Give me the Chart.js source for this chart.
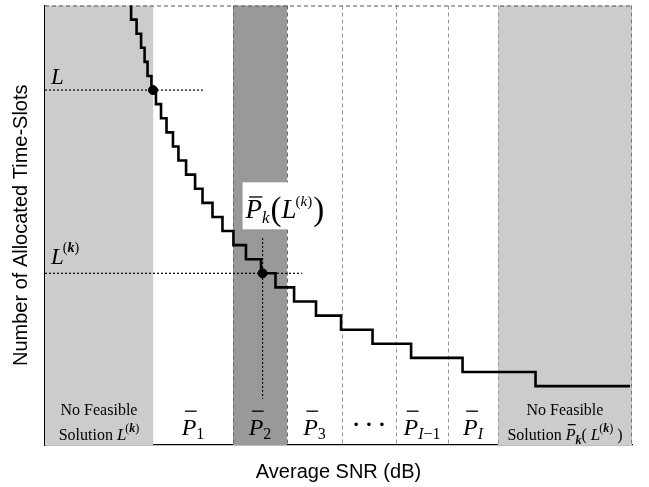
<!DOCTYPE html>
<html>
<head>
<meta charset="utf-8">
<script src="https://cdn.jsdelivr.net/npm/chart.js@4/dist/chart.umd.min.js"></script>
<style>
  body { margin: 0; background: #fff; }
</style>
</head>
<body>
<canvas id="snr-chart" width="649" height="487"></canvas>
<script>
// staircase: SNR where one slot is dropped, and slots needed after it
const stepSnr = [4.29, 4.40, 4.68, 4.91, 5.09, 5.24, 5.44, 5.67, 5.93, 6.21, 6.54, 6.82, 7.21, 7.67,
                 8.05, 8.56, 9.07, 9.63, 10.27, 11.04, 11.78, 12.73, 13.85, 15.13, 16.74, 18.71,
                 21.34, 25.07, 29.90];
const stepSlots = [32, 30, 29, 28, 27, 26, 25, 24, 23, 22, 21, 20, 19, 18,
                   17, 16, 15, 14, 13, 12, 11, 10, 9, 8, 7, 6,
                   5, 4, 4];

// region boundaries on the SNR axis (P1 .. PI)
const bounds = [0, 5.52, 9.61, 12.37, 15.18, 17.94, 20.60, 23.15, 30];

// the two marked operating points
const markSnr = [5.52, 11.12];
const markSlots = [25, 12];
const guideEnd = [8.07, 13.13];       // horizontal dotted lines end here
const guideSlots = [14.5, 3.1];       // vertical dotted line at markSnr[1]

const serif = '"Liberation Serif", "Times New Roman", serif';
const sans = '"Liberation Sans", Arial, sans-serif';

const stairData = stepSnr.map((x, i) => ({ x: x, y: stepSlots[i] }));

function rich(ctx, segs, x, y, center) {
    let w = 0;
    segs.forEach(s => {
        ctx.font = s.f;
        s.w = ctx.measureText(s.t).width;
        w += s.w + (s.gap || 0);
    });
    let cx = center ? x - w / 2 : x;
    segs.forEach(s => {
        ctx.font = s.f;
        ctx.fillText(s.t, cx, y + (s.dy || 0));
        if (s.bar) {
            ctx.fillRect(cx + s.w * 0.22, y - s.bar, s.w * 0.8, 1.3);
        }
        cx += s.w + (s.gap || 0);
    });
}

function pbar(sub, size) {
    let segs = [{ t: 'P', f: `italic ${size}px ${serif}`, bar: size * 1.02 }];
    return segs.concat(sub);
}

const regions = {
    id: 'regions',
    beforeDatasetsDraw(chart) {
        const { ctx, chartArea: a, scales: { x, y } } = chart;
        const px = v => x.getPixelForValue(v);
        ctx.save();
        // shaded areas
        ctx.fillStyle = '#cccccc';
        ctx.fillRect(a.left, a.top, px(bounds[1]) - a.left, a.bottom - a.top);
        ctx.fillRect(px(bounds[7]), a.top, a.right - px(bounds[7]), a.bottom - a.top);
        ctx.fillStyle = '#999999';
        ctx.fillRect(px(bounds[2]), a.top, px(bounds[3]) - px(bounds[2]), a.bottom - a.top);

        // dashed boundaries
        ctx.lineWidth = 1;
        ctx.setLineDash([4, 3]);
        bounds.slice(1, 8).forEach((b, i) => {
            ctx.strokeStyle = (i == 1 || i == 2) ? '#666' : '#999';
            if (i == 0) ctx.strokeStyle = '#eee';
            const xx = Math.round(px(b)) + 0.5;
            ctx.beginPath();
            ctx.moveTo(xx, a.top);
            ctx.lineTo(xx, a.bottom);
            ctx.stroke();
        });
        // dashed top and right frame
        ctx.strokeStyle = '#555';
        ctx.beginPath();
        ctx.moveTo(a.left, a.top + 0.5);
        ctx.lineTo(a.right, a.top + 0.5);
        ctx.stroke();
        ctx.strokeStyle = '#777';
        ctx.beginPath();
        ctx.moveTo(a.right - 0.5, a.top);
        ctx.lineTo(a.right - 0.5, a.bottom);
        ctx.stroke();
        ctx.restore();
    },
    afterDraw(chart) {
        const { ctx, chartArea: a, scales: { x, y } } = chart;
        const px = v => x.getPixelForValue(v);
        const mid = i => px((bounds[i] + bounds[i + 1]) / 2);
        ctx.save();
        ctx.fillStyle = '#000';
        ctx.textBaseline = 'alphabetic';

        // L and L^(k) on the left
        rich(ctx, [{ t: 'L', f: `italic 23px ${serif}` }], a.left + 6, y.getPixelForValue(markSlots[0]) - 6, false);
        rich(ctx, [
            { t: 'L', f: `italic 23px ${serif}`, gap: -1 },
            { t: '(', f: `14px ${serif}`, dy: -12 },
            { t: 'k', f: `bold italic 14px ${serif}`, dy: -12 },
            { t: ')', f: `14px ${serif}`, dy: -12 }
        ], a.left + 6, y.getPixelForValue(markSlots[1]) - 9, false);

        // label box for P_k(L^(k))
        const bx = px(markSnr[1]) - 20;
        const by = y.getPixelForValue(markSlots[1]) - 91;
        ctx.fillStyle = '#fff';
        ctx.fillRect(bx, by, 93, 47);
        ctx.fillStyle = '#000';
        rich(ctx, [
            { t: 'P', f: `italic 27px ${serif}`, bar: 22 },
            { t: 'k', f: `italic 17px ${serif}`, dy: 5, gap: 1 },
            { t: '(', f: `33px ${serif}`, dy: 2 },
            { t: 'L', f: `italic 27px ${serif}`, gap: -1 },
            { t: '(', f: `15px ${serif}`, dy: -12 },
            { t: 'k', f: `italic 15px ${serif}`, dy: -12 },
            { t: ')', f: `15px ${serif}`, dy: -12, gap: 1 },
            { t: ')', f: `33px ${serif}`, dy: 2 }
        ], bx + 3, by + 36, false);

        // labels under the regions
        const base = a.bottom - 10;
        const sub = (t, it) => ({ t: t, f: `${it ? 'italic ' : ''}16px ${serif}`, dy: 4 });
        rich(ctx, pbar([sub('1')], 24), mid(1), base, true);
        rich(ctx, pbar([sub('2')], 24), mid(2), base, true);
        rich(ctx, pbar([sub('3')], 24), mid(3), base, true);
        ctx.font = `bold 22px ${serif}`;
        ctx.textAlign = 'center';
        ctx.fillText('\u00b7 \u00b7 \u00b7', mid(4), base - 4);
        ctx.textAlign = 'left';
        rich(ctx, pbar([sub('I', true), sub('\u22121')], 24), mid(5), base, true);
        rich(ctx, pbar([sub('I', true)], 24), mid(6), base, true);

        const small = `16px ${serif}`;
        rich(ctx, [{ t: 'No Feasible', f: small }], mid(0), a.bottom - 30, true);
        rich(ctx, [
            { t: 'Solution ', f: small },
            { t: 'L', f: `italic 17px ${serif}`, gap: -1 },
            { t: '(', f: `12px ${serif}`, dy: -8 },
            { t: 'k', f: `bold italic 12px ${serif}`, dy: -8 },
            { t: ')', f: `12px ${serif}`, dy: -8 }
        ], mid(0), a.bottom - 5, true);
        rich(ctx, [{ t: 'No Feasible', f: small }], mid(7), a.bottom - 30, true);
        rich(ctx, [
            { t: 'Solution ', f: small },
            { t: 'P', f: `italic 16px ${serif}`, bar: 16 },
            { t: 'k', f: `bold italic 12px ${serif}`, dy: 4 },
            { t: '( ', f: small },
            { t: 'L', f: `italic 17px ${serif}`, gap: -1 },
            { t: '(', f: `12px ${serif}`, dy: -8 },
            { t: 'k', f: `bold italic 12px ${serif}`, dy: -8 },
            { t: ')', f: `12px ${serif}`, dy: -8 },
            { t: ' )', f: small }
        ], mid(7), a.bottom - 5, true);
        ctx.restore();
    }
};

const dotted = {
    showLine: true,
    borderColor: '#000',
    borderWidth: 1.2,
    borderDash: [2, 2],
    pointRadius: 0,
    fill: false
};

const ctx = document.getElementById('snr-chart').getContext('2d');

const snrChart = new Chart(ctx, {
    type: 'scatter',
    data: {
        datasets: [
            Object.assign({ data: [{ x: 0, y: markSlots[0] }, { x: guideEnd[0], y: markSlots[0] }] }, dotted),
            Object.assign({ data: [{ x: 0, y: markSlots[1] }, { x: guideEnd[1], y: markSlots[1] }] }, dotted),
            Object.assign({ data: [{ x: markSnr[1], y: guideSlots[0] }, { x: markSnr[1], y: guideSlots[1] }] }, dotted),
            {
                data: stairData,
                showLine: true,
                stepped: true,
                borderColor: '#000',
                borderWidth: 2.6,
                pointRadius: 0,
                fill: false
            },
            {
                data: markSnr.map((x, i) => ({ x: x, y: markSlots[i] })),
                pointRadius: 4.5,
                backgroundColor: '#000',
                borderColor: '#000',
                showLine: false
            }
        ]
    },
    options: {
        responsive: false,
        animation: false,
        layout: { padding: { top: 5, right: 17, left: 0, bottom: 0 } },
        plugins: {
            legend: { display: false },
            tooltip: { enabled: false }
        },
        scales: {
            x: {
                type: 'linear',
                min: 0,
                max: 30,
                grid: { display: false },
                ticks: { display: false },
                border: { display: true, color: '#000', width: 1.3 },
                title: {
                    display: true,
                    text: 'Average SNR (dB)',
                    color: '#000',
                    font: { family: sans, size: 20 },
                    padding: { top: 0, bottom: 3 }
                },
                afterFit: s => { s.height = 42; }
            },
            y: {
                type: 'linear',
                min: -0.18,
                max: 31,
                grid: { display: false },
                ticks: { display: false },
                border: { display: true, color: '#000', width: 1.3 },
                title: {
                    display: true,
                    text: 'Number of Allocated Time-Slots',
                    color: '#000',
                    font: { family: sans, size: 20 },
                    padding: { top: 9, bottom: 0 }
                },
                afterFit: s => { s.width = 45; }
            }
        }
    },
    plugins: [regions]
});
</script>
</body>
</html>
